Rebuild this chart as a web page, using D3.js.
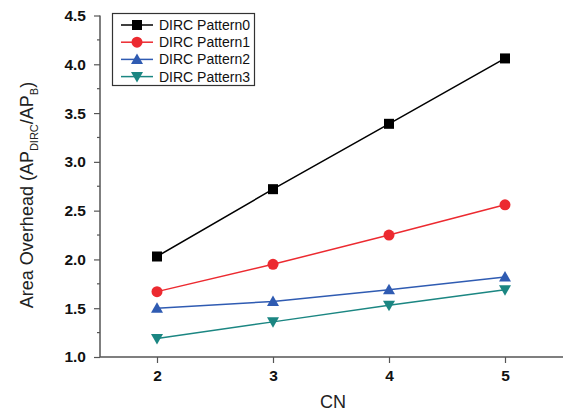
<!DOCTYPE html>
<html><head><meta charset="utf-8">
<script src="https://cdn.jsdelivr.net/npm/d3@7"></script>
<style>body{margin:0;background:#fff}svg{display:block}text{font-family:"Liberation Sans",Arial,sans-serif}</style>
</head><body><svg id="c" width="566" height="411"></svg>
<script>
const categories = [2, 3, 4, 5];
const seriesNames = ["DIRC Pattern0", "DIRC Pattern1", "DIRC Pattern2", "DIRC Pattern3"];
const pattern0 = [2.03, 2.72, 3.39, 4.06];
const pattern1 = [1.67, 1.95, 2.25, 2.56];
const pattern2 = [1.50, 1.57, 1.69, 1.82];
const pattern3 = [1.19, 1.36, 1.53, 1.69];
const yTicks = [1.0, 1.5, 2.0, 2.5, 3.0, 3.5, 4.0, 4.5];
const xTicks = [2, 3, 4, 5];

const colors = ["#000000", "#ec2a30", "#2f5bb2", "#1b8682"];
const shapes = ["square", "circle", "up", "down"];
const allSeries = [pattern0, pattern1, pattern2, pattern3];

const svg = d3.select("#c");
const x = d3.scaleLinear().domain([1.5, 5.5]).range([99, 563]);
const y = d3.scaleLinear().domain([1.0, 4.5]).range([357, 15.5]);
const axisColor = "#555";

// minor y ticks
const minor = d3.range(1.25, 4.5, 0.5);
svg.append("g").selectAll("line").data(minor).join("line")
  .attr("x1", 97).attr("x2", 100).attr("y1", d => y(d)).attr("y2", d => y(d))
  .attr("stroke", axisColor).attr("stroke-width", 1.2);

const yAxis = svg.append("g").attr("transform", "translate(100,0)")
  .call(d3.axisLeft(y).tickValues(yTicks).tickFormat(d3.format(".1f")).tickSize(6).tickPadding(8));
const xAxis = svg.append("g").attr("transform", "translate(0,357)")
  .call(d3.axisBottom(x).tickValues(xTicks).tickFormat(d3.format("d")).tickSize(6).tickPadding(7));
[yAxis, xAxis].forEach(g => {
  g.select(".domain").attr("stroke", axisColor).attr("stroke-width", 1.5);
  g.selectAll(".tick line").attr("stroke", axisColor).attr("stroke-width", 1.2);
  g.selectAll(".tick text").attr("fill", "#111").style("font-size", "15.5px").style("font-weight", "bold")
   .style("font-family", "'Liberation Sans',Arial,sans-serif");
});
yAxis.select(".domain").attr("d", "M0," + y(4.5) + "V" + y(1.0));
xAxis.select(".domain").attr("d", "M" + 100 + ",0H" + x(5.5));

// axis titles
svg.append("text").attr("x", 333).attr("y", 408).attr("text-anchor", "middle")
  .style("font-size", "18px").attr("fill", "#222").text("CN");
const yt = svg.append("text").attr("transform", "translate(33,195) rotate(-90)")
  .attr("text-anchor", "middle").style("font-size", "18px").attr("fill", "#222");
yt.append("tspan").text("Area Overhead (AP");
yt.append("tspan").attr("dy", 5).style("font-size", "11px").text("DIRC");
yt.append("tspan").attr("dy", -5).text("/AP");
yt.append("tspan").attr("dy", 5).style("font-size", "11px").text("B");
yt.append("tspan").attr("dy", -5).text(")");

function drawMarker(g, shape, color, cx, cy) {
  if (shape === "square") {
    g.append("rect").attr("x", cx - 5).attr("y", cy - 5).attr("width", 10).attr("height", 10).attr("fill", color);
  } else if (shape === "circle") {
    g.append("circle").attr("cx", cx).attr("cy", cy).attr("r", 5.5).attr("fill", color);
  } else if (shape === "up") {
    g.append("path").attr("d", `M${cx},${cy-6}L${cx+6},${cy+4.5}L${cx-6},${cy+4.5}Z`).attr("fill", color);
  } else {
    g.append("path").attr("d", `M${cx},${cy+6}L${cx+6},${cy-4.5}L${cx-6},${cy-4.5}Z`).attr("fill", color);
  }
}

const line = d3.line().x((d, i) => x(categories[i])).y(d => y(d));
allSeries.forEach((s, k) => {
  const g = svg.append("g");
  g.append("path").datum(s).attr("d", line).attr("fill", "none").attr("stroke", colors[k]).attr("stroke-width", 1.5);
  s.forEach((v, i) => drawMarker(g, shapes[k], colors[k], x(categories[i]), y(v)));
});

// legend
const lg = svg.append("g");
lg.append("rect").attr("x", 112.5).attr("y", 13.5).attr("width", 142).attr("height", 72)
  .attr("fill", "#fff").attr("stroke", "#333").attr("stroke-width", 1.2);
seriesNames.forEach((n, k) => {
  const cy = 25 + k * 17.2;
  lg.append("line").attr("x1", 121).attr("x2", 153).attr("y1", cy).attr("y2", cy)
    .attr("stroke", colors[k]).attr("stroke-width", 1.5);
  drawMarker(lg, shapes[k], colors[k], 137, cy);
  lg.append("text").attr("x", 159).attr("y", cy + 5).style("font-size", "14px").attr("fill", "#111").text(n);
});
</script></body></html>
